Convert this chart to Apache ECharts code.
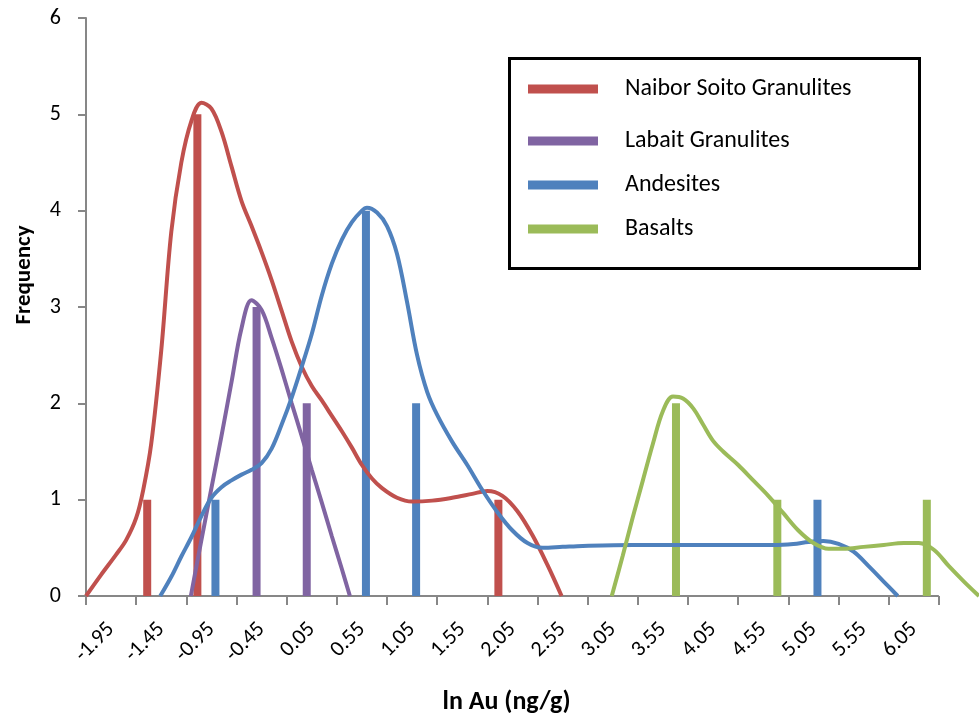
<!DOCTYPE html>
<html>
<head>
<meta charset="utf-8">
<script src="https://cdn.jsdelivr.net/npm/echarts@6/dist/echarts.min.js"></script>
<style>
  html, body { margin: 0; padding: 0; background: #ffffff; }
  #chart { width: 979px; height: 723px; }
</style>
</head>
<body>
<div id="chart"></div>
<script>
// Bin edges on the ln Au axis (tick marks) and the bin names shown between them
const binEdges = [-1.95, -1.45, -0.95, -0.45, 0.05, 0.55, 1.05, 1.55, 2.05, 2.55,
                  3.05, 3.55, 4.05, 4.55, 5.05, 5.55, 6.05, 6.55];
const binLabels = ['-1.95', '-1.45', '-0.95', '-0.45', '0.05', '0.55', '1.05', '1.55',
                   '2.05', '2.55', '3.05', '3.55', '4.05', '4.55', '5.05', '5.55', '6.05'];
// The plot runs a little past the last bin edge so the basalt tail can fade out
const plotMaxX = 6.95;

const seriesNames = ['Naibor Soito Granulites', 'Labait Granulites', 'Andesites', 'Basalts'];
const seriesColors = ['#C0504D', '#8064A2', '#4F81BD', '#9BBB59'];

// Frequency bars: [ln Au, count]
const naiborBars = [[-1.34, 1], [-0.84, 5], [2.16, 1]];
const labaitBars = [[-0.25, 3], [0.25, 2]];
const andesiteBars = [[-0.66, 1], [0.84, 4], [1.34, 2], [5.34, 1]];
const basaltBars = [[3.93, 2], [4.94, 1], [6.43, 1]];

// Smoothed frequency envelopes: [ln Au, frequency]
const naiborCurve = [
  [-1.95, 0], [-1.8, 0.22], [-1.65, 0.43], [-1.55, 0.58], [-1.45, 0.81], [-1.38, 1.1],
  [-1.3, 1.58], [-1.2, 2.55], [-1.1, 3.78], [-1.0, 4.5], [-0.9, 4.93], [-0.8, 5.12],
  [-0.7, 5.06], [-0.6, 4.82], [-0.5, 4.46], [-0.4, 4.1], [-0.3, 3.84], [-0.2, 3.57],
  [-0.1, 3.28], [0.0, 2.96], [0.1, 2.64], [0.2, 2.38], [0.3, 2.18], [0.4, 2.03],
  [0.5, 1.87], [0.6, 1.71], [0.7, 1.54], [0.8, 1.36], [0.9, 1.22], [1.0, 1.12],
  [1.15, 1.02], [1.3, 0.98], [1.5, 0.99], [1.7, 1.02], [1.9, 1.06], [2.05, 1.09],
  [2.2, 1.04], [2.35, 0.88], [2.5, 0.63], [2.65, 0.32], [2.79, 0]
];
const labaitCurve = [
  [-0.905, 0], [-0.8, 0.58], [-0.7, 1.12], [-0.6, 1.66], [-0.5, 2.22], [-0.4, 2.78],
  [-0.3, 3.07], [-0.2, 2.97], [-0.1, 2.68], [0.0, 2.35], [0.1, 2.0], [0.2, 1.66],
  [0.3, 1.31], [0.4, 0.97], [0.5, 0.62], [0.6, 0.28], [0.68, 0]
];
const andesiteCurve = [
  [-1.21, 0], [-1.1, 0.2], [-1.0, 0.41], [-0.9, 0.61], [-0.8, 0.83], [-0.7, 1.02],
  [-0.6, 1.13], [-0.5, 1.2], [-0.4, 1.26], [-0.3, 1.31], [-0.2, 1.38], [-0.1, 1.53],
  [0.0, 1.78], [0.1, 2.06], [0.2, 2.38], [0.3, 2.72], [0.4, 3.12], [0.5, 3.45],
  [0.6, 3.7], [0.7, 3.88], [0.8, 4.0], [0.85, 4.03], [0.95, 3.98], [1.05, 3.84],
  [1.15, 3.55], [1.25, 3.05], [1.35, 2.5], [1.45, 2.12], [1.55, 1.88], [1.7, 1.6],
  [1.85, 1.36], [2.0, 1.1], [2.15, 0.87], [2.3, 0.68], [2.45, 0.55], [2.6, 0.5],
  [2.8, 0.51], [3.0, 0.52], [3.5, 0.53], [4.0, 0.53], [4.5, 0.53], [4.9, 0.53],
  [5.1, 0.54], [5.25, 0.56], [5.4, 0.57], [5.55, 0.54], [5.7, 0.46], [5.85, 0.31],
  [6.0, 0.15], [6.14, 0]
];
const basaltCurve = [
  [3.29, 0], [3.4, 0.42], [3.5, 0.82], [3.6, 1.2], [3.7, 1.58], [3.8, 1.92],
  [3.9, 2.07], [4.0, 2.05], [4.1, 1.95], [4.2, 1.78], [4.3, 1.61], [4.4, 1.5],
  [4.55, 1.36], [4.7, 1.2], [4.85, 1.04], [5.0, 0.86], [5.15, 0.68], [5.3, 0.55],
  [5.45, 0.49], [5.6, 0.49], [5.8, 0.51], [6.0, 0.53], [6.2, 0.55], [6.35, 0.55],
  [6.5, 0.48], [6.65, 0.31], [6.8, 0.15], [6.95, 0]
];

const barSets = [naiborBars, labaitBars, andesiteBars, basaltBars];
const curveSets = [naiborCurve, labaitCurve, andesiteCurve, basaltCurve];

// Label positions sit in the middle of each bin
const labelPositions = binLabels.map((_, i) => +((binEdges[i] + binEdges[i + 1]) / 2).toFixed(3));

const FONT = 'Carlito, Calibri, Lato, sans-serif';
const AXIS_GREY = '#878787';

const series = [];
seriesNames.forEach((name, i) => {
  const s = {
    name: name,
    type: 'bar',
    data: barSets[i],
    barWidth: 8,
    barGap: '-100%',
    itemStyle: { color: seriesColors[i] },
    z: 2
  };
  if (i === 0) {
    // Horizontal axis line, drawn only across the binned range
    s.markLine = {
      silent: true,
      symbol: ['none', 'none'],
      label: { show: false },
      lineStyle: { color: AXIS_GREY, width: 2, type: 'solid' },
      data: [[{ coord: [binEdges[0], 0] }, { coord: [binEdges[binEdges.length - 1], 0] }]],
      z: 1
    };
  }
  series.push(s);
});
seriesNames.forEach((name, i) => {
  series.push({
    name: name,
    type: 'line',
    data: curveSets[i],
    smooth: 0.35,
    showSymbol: false,
    lineStyle: { color: seriesColors[i], width: 4 },
    itemStyle: { color: seriesColors[i] },
    z: 3
  });
});

// One legend per row so each row sits at its own height
const legendRowCenters = [87, 139, 183, 227];
const legends = seriesNames.map((name, i) => ({
  data: [{ name: name, icon: 'rect' }],
  left: 528,
  top: legendRowCenters[i] - 10,
  padding: 0,
  itemWidth: 70,
  itemHeight: 9,
  selectedMode: false,
  textStyle: { fontFamily: FONT, fontSize: 24, color: '#000', padding: [0, 0, 0, 22] }
}));

const chart = echarts.init(document.getElementById('chart'), null, { renderer: 'canvas' });
chart.setOption({
  animation: false,
  backgroundColor: '#ffffff',
  grid: { left: 86, right: -11, top: 18, bottom: 127, containLabel: false },
  legend: legends,
  graphic: [{
    type: 'rect',
    left: 507,
    top: 56,
    shape: { width: 410, height: 210 },
    style: { fill: 'none', stroke: '#000', lineWidth: 3 },
    z: 10
  }],
  xAxis: {
    type: 'value',
    min: binEdges[0],
    max: plotMaxX,
    name: 'ln Au (ng/g)',
    nameLocation: 'middle',
    nameGap: 93,
    // shifted so the title centres under the binned range rather than the full plot
    nameTextStyle: { fontFamily: FONT, fontSize: 26, fontWeight: 'bold', color: '#000', padding: [0, 52, 0, 0] },
    splitLine: { show: false },
    axisLine: { show: false, onZero: false },
    axisTick: {
      show: true,
      length: 9,
      customValues: binEdges,
      lineStyle: { color: AXIS_GREY, width: 2 }
    },
    axisLabel: {
      customValues: labelPositions,
      rotate: 45,
      margin: 30,
      fontFamily: FONT,
      fontSize: 22,
      color: '#000',
      formatter: function (v) {
        const idx = labelPositions.findIndex(p => Math.abs(p - v) < 1e-6);
        return idx >= 0 ? binLabels[idx] : '';
      }
    }
  },
  yAxis: {
    type: 'value',
    min: 0,
    max: 6,
    interval: 1,
    name: 'Frequency',
    nameLocation: 'middle',
    nameGap: 50,
    nameTextStyle: { fontFamily: FONT, fontSize: 23, fontWeight: 'bold', color: '#000', padding: [0, 0, 0, 64] },
    splitLine: { show: false },
    axisLine: { show: true, onZero: false, lineStyle: { color: AXIS_GREY, width: 2 } },
    axisTick: { show: true, length: 8, lineStyle: { color: AXIS_GREY, width: 2 } },
    axisLabel: { margin: 25, fontFamily: FONT, fontSize: 22, color: '#000' }
  },
  series: series
});
</script>
</body>
</html>
